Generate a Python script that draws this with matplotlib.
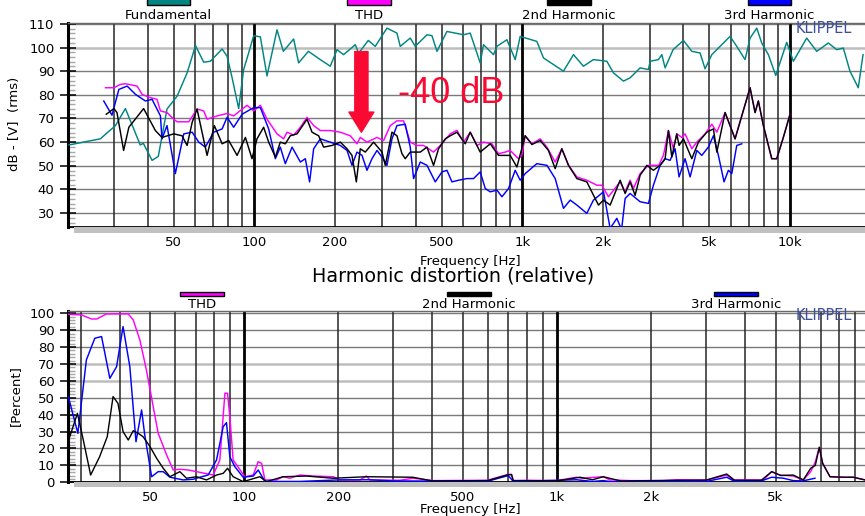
import matplotlib
matplotlib.use('Agg')
import matplotlib.pyplot as plt
from matplotlib.patches import Rectangle

# ---------------- data: top panel (absolute, dB) ----------------
fund_f = [20.3, 26.6, 30.3, 33.0, 37.5, 38.5, 41.5, 43.8, 47.2, 51.5, 56.1, 60.3, 64.7, 68.5,
          75.8, 79.1, 82.6, 87.4, 91.2, 95.2, 99.4, 105.3, 111.5, 121.5, 128.3, 140.2, 146.3,
          159.1, 176.3, 192.1, 203.5, 215.4, 238.2, 245, 266.3, 282.8, 312.7, 340.7, 350.5,
          382, 398.8, 441, 460.4, 480.6, 523.6, 603.9, 639.7, 697, 717, 781.6, 804.8, 876.8,
          941.7, 982.9, 1134, 1201, 1426, 1554, 1693, 1845, 2070, 2191, 2388, 2529, 2756,
          2960, 3004, 3226, 3321, 3417, 3659, 4000, 4298, 4615, 4817, 5104, 5972, 6325, 6794,
          7092, 7512, 7842, 8299, 8844, 9721, 10290, 11540, 12580, 13900, 14940, 15810, 16740,
          17980, 18730]
fund_db = [58.8, 61.4, 67, 74.2, 58.8, 59.5, 52.3, 54, 74, 79.5, 89.3, 100.8, 93.8, 94.2,
           99.4, 96.3, 87.2, 74.2, 90.7, 97.7, 105, 104.5, 88, 107.5, 98.4, 103.6, 93.5,
           98.4, 94.9, 92.1, 99.1, 97, 101.2, 97.6, 103, 100.5, 108.2, 106.1, 100.5,
           104, 100.5, 105.4, 105, 98.4, 106.8, 105.4, 106.1, 93.5, 101.2, 97, 100.5, 103.3,
           94.9, 104.7, 102.6, 95.6, 90, 97, 92.1, 94.9, 94.2, 89.3, 85.8, 87.2, 91.4,
           90.7, 94.2, 94.9, 97, 91.4, 99.1, 103, 98.4, 97.7, 91, 97, 104.7, 100.5, 94.9,
           104, 108.2, 101.9, 97, 88.2, 102.2, 94.2, 104, 98.4, 101.9, 99.1, 99.8, 90,
           83, 97]

thd_f = [27.8, 29.9, 31.6, 33.0, 36.5, 38.1, 40.9, 43.3, 44.6, 47.2, 50, 51.5, 56.9, 61.1,
         64.7, 66.6, 72.6, 79.1, 83.7, 93.9, 99.4, 105.3, 111.5, 121.5, 128.6, 132.4, 140.2,
         148.5, 157.3, 166.5, 176.3, 192.1, 209.4, 228.1, 241.6, 248.6, 263.3, 287, 303.8,
         321.7, 340.7, 360.7, 382, 404.7, 428.2, 466.7, 494.3, 538.7, 570.6, 603.9, 639.7,
         677.5, 717, 770.9, 815.9, 864.3, 902.1, 968.8, 997.4, 1026, 1087, 1167, 1237, 1328,
         1406, 1489, 1600, 1743, 1900, 1984, 2099, 2321, 2423, 2529, 2602, 2756, 2960, 3236,
         3367, 3515, 3669, 3777, 3943, 4056, 4298, 4487, 4817, 5104, 5329, 5722, 6234, 6604,
         7092, 7404, 7616, 7953, 8545, 8920, 9441, 10000]
thd_db = [83, 83, 84.4, 84.7, 83.7, 80.2, 78.8, 78.1, 73.2, 72.5, 69.7, 68.6, 68.6, 74,
          73.2, 69.7, 71.1, 72.1, 71.1, 75.6, 73.2, 75.6, 69.7, 63.5, 61.4, 64.2, 63,
          66.3, 70.5, 67, 64.9, 64.9, 64.2, 62.7, 59.3, 62, 60, 62, 60.7,
          67, 69, 69, 60, 58.6, 58.6, 55.8, 58.6, 63.5, 65, 60, 64.2,
          58.6, 60, 59.3, 55.1, 55.8, 56.5, 53, 54.4, 62.7, 59.3, 61.4, 57.9, 51.6,
          57.2, 50.2, 45.3, 43.9, 41.8, 41.8, 36.9, 43.2, 39, 43.9, 40.4, 46.7, 50.2, 50.2,
          54.4, 64.9, 57.2, 63.5, 62, 63.5, 57.2, 60, 63.5, 67.6, 64.2, 72.5, 61.4, 71.1,
          83, 72.5, 77.4, 67, 53, 53, 62, 71.8]

h2_f = [28.0, 29.9, 30.7, 32.5, 34.0, 38.6, 42.7, 45.2, 50, 53.7, 56.1, 58.6, 61.1, 66.6,
        70.9, 75.8, 80.2, 86.2, 92.6, 98, 102.3, 108.3, 113.1, 119.8, 125, 130.5, 136.2,
        144.3, 157.3, 164.2, 173.8, 181.4, 195, 209.4, 221.8, 231.5, 240.3, 248.6, 259.5,
        278.7, 299.6, 308.2, 326.4, 340.7, 355.7, 365.9, 382, 416.3, 441, 466.7, 487.3,
        516.1, 538.7, 570.6, 612.9, 639.7, 697, 759.8, 815.9, 902.1, 955.5, 1026, 1087,
        1167, 1253, 1328, 1406, 1489, 1600, 1743, 1845, 1927, 2012, 2130, 2321, 2423, 2529,
        2640, 2756, 2920, 3090, 3273, 3417, 3515, 3619, 3777, 3853, 4000, 4298, 4549, 4890,
        5175, 5329, 5722, 6234, 6604, 7092, 7404, 7616, 7953, 8545, 8920, 9441, 10000]
h2_db = [71.8, 74.2, 72.5, 56.5, 66.3, 74.2, 64.9, 62, 63.5, 62.7, 58.6, 68.4, 74, 54.4,
         67, 59.3, 60.7, 54.4, 62, 53, 61.4, 66.3, 60, 53.7, 60, 59.3, 62.7,
         63.5, 69.7, 64.2, 62.7, 57.9, 58.6, 60, 57.2, 54.4, 43.2, 57.2, 55.8,
         60, 55.8, 50.2, 64.2, 62.7, 55.1, 53, 55.8, 55.8, 57.9, 50.2, 57.2,
         61.4, 62.7, 64.2, 59.3, 64.2, 55.8, 59.3, 54.4, 54.4, 49.5, 62.7, 59,
         60.7, 56.5, 48.8, 57.2, 50.2, 44.6, 43.2, 37.6, 33.4, 35.5, 33.4, 43.9, 38.3, 43.2,
         37.5, 46, 50.2, 48.1, 50.2, 53, 64.9, 53.7, 63.5, 58.6, 61.4, 53, 60, 64.2,
         65.6, 55.8, 72.5, 61.4, 71.1, 83, 72.5, 77.4, 67, 53, 53, 62, 71.8]

h3_f = [27.4, 29.4, 31.2, 33.5, 36, 39.2, 41.5, 44.6, 45.2, 47.2, 50.7, 54.5, 58.6, 62,
        65.6, 70.5, 75.8, 79.1, 83.7, 90, 99.4, 105.3, 113.1, 119.8, 125, 130.5, 138.3,
        148.5, 155, 160.8, 166.5, 176.3, 192.1, 209.4, 221.8, 231.5, 241.6, 252.3, 263.3,
        274.9, 287, 299.6, 312.7, 326.4, 340.7, 365.9, 382, 393.1, 416.3, 441, 473.7, 501.7,
        523.6, 546.7, 578.7, 622, 658.2, 697, 727.9, 759.8, 804.8, 840.2, 889.3, 941.7,
        982.9, 1026, 1134, 1237, 1328, 1426, 1511, 1600, 1743, 1845, 2012, 2130, 2256, 2350,
        2423, 2529, 2756, 2960, 3090, 3273, 3417, 3566, 3723, 3853, 4056, 4236, 4487, 4683,
        4955, 5175, 5402, 5671, 5886, 6061, 6325, 6604]
h3_db = [77.4, 71.4, 82.3, 83.7, 80.2, 77.4, 78.1, 71.1, 61.4, 67, 46.7, 63.5, 64.2, 60,
         57.9, 64.2, 65.6, 70.5, 66.3, 71.8, 74.6, 74.6, 65.6, 53, 57.9, 50.9, 57.9,
         51.6, 53, 43.2, 57.2, 61.4, 60, 58.6, 56.5, 50.2, 55.8, 54.4, 48.1,
         53, 56.5, 53.7, 50.2, 61.4, 67, 67.6, 57.9, 44.6, 51.6, 50.2, 43.2, 47.4,
         48.1, 43.2, 43.9, 44.6, 44.6, 47.4, 40.4, 39, 39.7, 36.9, 40.4, 48.1,
         43.9, 46.7, 50.9, 50.2, 44.6, 32, 35.5, 33.4, 29.9, 35.5, 39, 23.5, 27.8, 23,
         36.2, 38.3, 34.8, 34.1, 41.8, 50.2, 53, 52.3, 57.2, 45.3, 53, 45.3, 56.5, 54.4,
         57.9, 62.7, 54.4, 43.2, 48.1, 46.7, 58.6, 59.3]

# ---------------- data: bottom panel (relative, %) ----------------
rthd_f = [27.4, 30.2, 32.5, 33.8, 36.3, 42.6, 44.2, 46.4, 48.7, 51.2, 53.1, 56.5, 59.3, 62.3,
          66.2, 70.4, 79.6, 83.6, 86.8, 88.5, 90, 92.2, 100.5, 106.9, 110.9, 113.7, 116.5,
          126.9, 133.2, 140, 150.7, 166.2, 192.6, 202, 234.4, 246, 252.5, 314.7, 346, 402,
          600, 699, 716, 725, 800, 997, 1156, 1200, 1406, 1477, 1712, 2188, 2414, 3010, 3489,
          3664, 4570, 4860, 5166, 5697, 6133, 6477, 6700, 6900, 7073, 7466, 8233, 8864, 9660]
rthd = [99.4, 99, 96.6, 96.6, 99.6, 99.6, 96, 84.2, 66.4, 44.7, 29, 16.2, 7.3, 7.7,
        7.3, 6.3, 4.3, 13.2, 52.7, 52.7, 38.8, 13.2, 3.3, 4.3, 12.2, 11.2, 1.4,
        1.4, 3.3, 2.4, 4.3, 3.7, 3.3, 1.4, 1.4, 3.7, 1.4, 1.2, 2.4, 1.0,
        1.2, 4.7, 4.7, 1.0, 1.2, 1.0, 3.0, 2.4, 3.3, 1.4, 1.0, 1.0, 1.5, 1.3, 4.3,
        1.4, 1.4, 6.3, 4.3, 3.7, 1.4, 6.3, 12, 20.7, 11.2, 3.3, 3.0, 3.0, 1.4]

rh2_f = [27.7, 29.3, 30.6, 32.3, 34.5, 36.5, 38.1, 39.5, 41, 42.6, 44.2, 45.8, 47.5, 50,
         52.5, 55.1, 57.9, 62.3, 65.4, 70.4, 75.8, 81.6, 85.7, 88.5, 92.2, 99.3, 112.2,
         117.9, 133.2, 158.3, 192.6, 246, 346, 400, 600, 699, 716, 725, 1000, 1185, 1300,
         1406, 1600, 2500, 3000, 3489, 3700, 4500, 4860, 5200, 5697, 6133, 6477, 6700, 6900,
         7073, 7466, 8233, 8864, 9660]
rh2 = [27, 40.8, 25, 4.3, 15.1, 27, 50.7, 46.7, 30, 25, 30.5, 29, 27, 21.1,
       14.2, 8.3, 3.3, 6.3, 2.4, 3.3, 1.4, 4.3, 5.3, 8.3, 3.3, 0.4, 3.3,
       0.4, 3.3, 3.7, 2.4, 3.3, 3.0, 0.8, 1.0, 4.5, 4.5, 1.0, 0.8, 3.0, 1.5,
       3.3, 0.8, 1.2, 1.3, 4.9, 1.2, 1.2, 6.3, 4.0, 4.3, 1.4, 8.3, 10, 20.7,
       11.2, 3.3, 3.0, 3.0, 1.4]

rh3_f = [27.4, 29.4, 31.3, 33.3, 35, 37.2, 39.1, 41, 43.1, 45.1, 47, 48.1, 50.6, 53.1,
         55.1, 57.9, 63.8, 68.7, 72.2, 76.7, 81.6, 85.7, 87.8, 90, 93.4, 99.3, 106.9,
         110.9, 116.5, 150, 200, 250, 300, 600, 699, 725, 1156, 1300, 1406, 1500, 3000,
         3489, 3700, 4500, 4860, 5300, 5697, 6100, 6683]
rh3 = [50.7, 29, 72.4, 85.2, 86.2, 61.5, 68.4, 92.1, 68.4, 24, 42.8, 28, 3.3, 6.3,
       6.3, 3.0, 1.4, 1.8, 3.0, 4.3, 13.2, 32.9, 35.3, 15.1, 9.2, 3.0, 3.7,
       7.3, 0.5, 0.5, 1.4, 1.5, 0.8, 0.6, 4.0, 0.5, 1.5, 0.5, 1.0, 0.3, 0.5,
       3.0, 0.5, 0.8, 3.0, 2.4, 1.0, 0.8, 2.4]

x_ticks = [50, 100, 200, 500, 1000, 2000, 5000, 10000]
x_tick_labels = ['50', '100', '200', '500', '1k', '2k', '5k', '10k']
legend_top = ['Fundamental', 'THD', '2nd Harmonic', '3rd Harmonic']
legend_bottom = ['THD', '2nd Harmonic', '3rd Harmonic']

C_FUND = '#008583'
C_THD = '#ff00ff'
C_H2 = '#000000'
C_H3 = '#0000ff'
C_RED = '#fa0a32'
C_KLIP = '#3c4f9c'

W, H = 865, 516
fig = plt.figure(figsize=(W / 100, H / 100), dpi=100)
plt.rcParams['font.family'] = ['DejaVu Sans']


def fx(px):
    return px / W


def fy(py):
    return 1 - py / H


ax1 = fig.add_axes([fx(68.3), fy(227.3), 1 - fx(68.3), fy(22.7) - fy(227.3)])
ax2 = fig.add_axes([fx(68.3), fy(482.3), 1 - fx(68.3), fy(310.7) - fy(482.3)])

grid_f = [m * d for d in (10, 100, 1000) for m in range(1, 10)] + [10000]
grid_f = [g for g in grid_f if g >= 30]


def style_axes(ax, xlim, ylim, yticks, minor_step, light_rows):
    ax.set_xscale('log')
    ax.set_xlim(*xlim)
    ax.set_ylim(*ylim)
    for g in grid_f:
        if g < xlim[1]:
            dec = g in (100, 1000, 10000)
            ax.axvline(g, color='#000000' if dec else '#262626', lw=2.0 if dec else 1.1, zorder=1)
    for v in yticks:
        if v in light_rows:
            ax.axhline(v, color='#bdbdbd', lw=1.8, zorder=0.9)
        else:
            ax.axhline(v, color='#7a7a7a', lw=1.0, zorder=0.9)
    ax.set_yticks(yticks)
    ax.set_yticks([v for v in range(int(ylim[0]), int(ylim[1]) + 1, minor_step) if v not in yticks], minor=True)
    ax.tick_params(axis='y', which='major', direction='inout', length=11, width=1.1,
                   color='black', pad=4.5, labelsize=9.5)
    ax.tick_params(axis='y', which='minor', direction='in', length=5, width=1.0, color='#a8a8a8')
    shown = [(t, l) for t, l in zip(x_ticks, x_tick_labels) if xlim[0] <= t <= xlim[1]]
    ax.set_xticks([t for t, _ in shown])
    ax.set_xticklabels([l for _, l in shown])
    ax.xaxis.set_minor_locator(plt.NullLocator())
    ax.tick_params(axis='x', which='major', length=0, pad=6, labelsize=9.5)
    ax.spines['right'].set_visible(False)
    ax.spines['left'].set_linewidth(2.2)
    ax.spines['bottom'].set_linewidth(1.3)
    ax.spines['top'].set_color('#6a6a6a')
    ax.spines['top'].set_linewidth(1.0)


style_axes(ax1, (20.2, 19050), (24.8, 110.5), list(range(30, 111, 10)), 2, [100])
style_axes(ax2, (27.4, 9660), (0, 101.5), list(range(0, 101, 10)), 2, [60, 70])

# top curves
ax1.plot(fund_f, fund_db, color=C_FUND, lw=1.05, zorder=3)
ax1.plot(thd_f, thd_db, color=C_THD, lw=1.05, zorder=3)
ax1.plot(h3_f, h3_db, color=C_H3, lw=1.05, zorder=3)
ax1.plot(h2_f, h2_db, color=C_H2, lw=1.05, zorder=3)

# bottom curves
ax2.plot(rthd_f, rthd, color=C_THD, lw=1.05, zorder=3)
ax2.plot(rh3_f, rh3, color=C_H3, lw=1.05, zorder=3)
ax2.plot(rh2_f, rh2, color=C_H2, lw=1.0, zorder=3)

# arrow and annotation
ax1.annotate('', xy=(251, 64.2), xytext=(251, 98.3),
             arrowprops=dict(arrowstyle='simple,head_length=1.45,head_width=1.8,tail_width=0.95',
                             color=C_RED, shrinkA=0, shrinkB=0, mutation_scale=10), zorder=5)
ax1.text(344, 76.7, '-40 dB', fontsize=26, family='Liberation Sans', color=C_RED,
         ha='left', va='baseline', zorder=5)

# gray bands under x axes
for ytop, ybot in ((227.3, 232.7), (482.3, 487.3)):
    fig.add_artist(Rectangle((fx(74), fy(ybot)), 1 - fx(74), fy(ytop) - fy(ybot),
                             transform=fig.transFigure, facecolor='#c0c0c0', edgecolor='none'))

# legends
top_boxes = [(147, 190, C_FUND), (347, 391, C_THD), (547, 591, C_H2), (748, 791, C_H3)]
for (x0, x1, c), lab in zip(top_boxes, legend_top):
    fig.add_artist(Rectangle((fx(x0), fy(5)), fx(x1) - fx(x0), fy(-2) - fy(5),
                             transform=fig.transFigure, facecolor=c, edgecolor='black', lw=1))
    fig.text(fx((x0 + x1) / 2), fy(15.7), lab, ha='center', va='center', fontsize=9.5)

bot_boxes = [(180, 224, C_THD), (447, 491, C_H2), (714, 758, C_H3)]
for (x0, x1, c), lab in zip(bot_boxes, legend_bottom):
    fig.add_artist(Rectangle((fx(x0), fy(296)), fx(x1) - fx(x0), fy(291.5) - fy(296),
                             transform=fig.transFigure, facecolor=c, edgecolor='black', lw=1))
    fig.text(fx((x0 + x1) / 2), fy(304), lab, ha='center', va='center', fontsize=9.5)

# texts
fig.text(fx(795.7), fy(32.7), 'KLIPPEL', color=C_KLIP, fontsize=10.5, va='baseline', ha='left')
fig.text(fx(795.7), fy(319.5), 'KLIPPEL', color=C_KLIP, fontsize=10.5, va='baseline', ha='left', zorder=10)
fig.text(fx(470), fy(261.7), 'Frequency [Hz]', ha='center', va='center', fontsize=9.5)
fig.text(fx(470), fy(509), 'Frequency [Hz]', ha='center', va='center', fontsize=9.5)
fig.text(fx(15), fy(124), 'dB - [V]  (rms)', ha='center', va='center', rotation=90, fontsize=9.5)
fig.text(fx(15), fy(396), '[Percent]', ha='center', va='center', rotation=90, fontsize=9.5)
fig.text(fx(453), fy(276.5), 'Harmonic distortion (relative)', ha='center', va='center', fontsize=13.8)

fig.savefig('out.png', dpi=100)
